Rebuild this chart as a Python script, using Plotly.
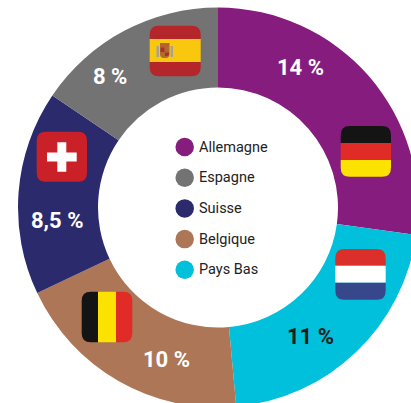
import plotly.graph_objects as go

# ---- data ----
slice_countries = ["Allemagne", "Pays Bas", "Belgique", "Suisse", "Espagne"]
slice_values = [14, 11, 10, 8.5, 8]
slice_colors = ["#851C7E", "#00C0DC", "#AD7656", "#2B2A6D", "#737373"]
value_labels = ["14 %", "11 %", "10 %", "8,5 %", "8 %"]
label_colors = ["#FFFFFF", "#1D1D1B", "#FFFFFF", "#FFFFFF", "#FFFFFF"]
legend_order = ["Allemagne", "Espagne", "Suisse", "Belgique", "Pays Bas"]

# ---- layout (page pixels; the ring runs past the right and bottom edges, as in the reference) ----
W, H = 436, 415
CX, CY, R = 218, 207.5, 200
label_xy = [(300, 67.5), (310, 336.5), (166.5, 359), (57, 220.5), (109.5, 76.5)]
LEG_X, LEG_Y0, LEG_STEP = 184.7, 147, 30.7
FONT = "Roboto, Arial, sans-serif"
color_of = dict(zip(slice_countries, slice_colors))

fig = go.Figure()
fig.add_trace(go.Pie(
    labels=slice_countries, values=slice_values, sort=False,
    direction="clockwise", rotation=0, hole=0.6,
    marker=dict(colors=slice_colors, line=dict(width=0)),
    textinfo="none", showlegend=False, hoverinfo="label+value",
    domain=dict(x=[(CX - R) / W, (CX + R) / W], y=[(H - CY - R) / H, (H - CY + R) / H]),
))

fig.add_trace(go.Scatter(
    x=[LEG_X] * len(legend_order),
    y=[LEG_Y0 + i * LEG_STEP for i in range(len(legend_order))],
    mode="markers", showlegend=False, hoverinfo="skip",
    marker=dict(size=18.5, color=[color_of[c] for c in legend_order], line=dict(width=0)),
))


def rrect(x0, y0, x1, y1, tl=0, tr=0, br=0, bl=0):
    return (
        f"M{x0 + tl},{y0} L{x1 - tr},{y0} Q{x1},{y0} {x1},{y0 + tr} "
        f"L{x1},{y1 - br} Q{x1},{y1} {x1 - br},{y1} "
        f"L{x0 + bl},{y1} Q{x0},{y1} {x0},{y1 - bl} "
        f"L{x0},{y0 + tl} Q{x0},{y0} {x0 + tl},{y0} Z"
    )


shapes = []


def add(path, color):
    shapes.append(dict(type="path", path=path, fillcolor=color,
                       line=dict(width=0), xref="x", yref="y", layer="above"))


def hflag(x0, y0, x1, y1, cuts, colors, r=9):
    edges = [y0] + cuts + [y1]
    for i, c in enumerate(colors):
        top = r if i == 0 else 0
        bot = r if i == len(colors) - 1 else 0
        add(rrect(x0, edges[i], x1, edges[i + 1], top, top, bot, bot), c)


def vflag(x0, y0, x1, y1, cuts, colors, r=9):
    edges = [x0] + cuts + [x1]
    for i, c in enumerate(colors):
        lft = r if i == 0 else 0
        rgt = r if i == len(colors) - 1 else 0
        add(rrect(edges[i], y0, edges[i + 1], y1, lft, rgt, rgt, lft), c)


# Germany
hflag(340.7, 126, 391, 176.7, [143, 160], ["#141414", "#E02B26", "#FBE200"])
# Netherlands
hflag(335.3, 249, 385.7, 299.7, [265.7, 282.7], ["#DB2F2A", "#FFFFFF", "#37478B"])
# Belgium
vflag(81.7, 291.7, 132.3, 342.3, [98, 116], ["#141414", "#FBE200", "#E02B26"])
# Spain
hflag(149.7, 25.7, 200.7, 76.3, [39, 62], ["#B5262B", "#F9C80E", "#B5262B"])
# Spain, coat of arms
add(rrect(156.5, 46, 159, 57), "#A9A28E")
add(rrect(170.5, 46, 173, 57), "#A9A28E")
add(rrect(160, 43, 169.5, 47), "#B5622B")
add(rrect(160, 47, 169.5, 58, 0, 0, 4, 4), "#B06A2A")
add(rrect(160.5, 47.5, 164.5, 52), "#A8322B")
add(rrect(165, 52.5, 169, 56, 0, 0, 2, 0), "#A8322B")
# Switzerland
add(rrect(36.7, 131.7, 87, 181.7, 9, 9, 9, 9), "#C92127")
add(rrect(47, 152.5, 76.7, 161.5), "#FFFFFF")
add(rrect(57.3, 142.3, 66.3, 171.7), "#FFFFFF")

annotations = []
for text, col, (x, y) in zip(value_labels, label_colors, label_xy):
    annotations.append(dict(x=x, y=y, xref="x", yref="y", text=f"<b>{text}</b>", showarrow=False,
                            xanchor="center", yanchor="middle",
                            font=dict(family=FONT, size=22, color=col)))
for i, name in enumerate(legend_order):
    annotations.append(dict(x=LEG_X + 12.3, y=LEG_Y0 + i * LEG_STEP, xref="x", yref="y", text=name,
                            showarrow=False, xanchor="left", yanchor="middle",
                            font=dict(family=FONT, size=14.5, color="#222222")))

fig.update_layout(
    width=W, height=H, autosize=False,
    margin=dict(l=0, r=0, t=0, b=0),
    paper_bgcolor="white", plot_bgcolor="rgba(0,0,0,0)",
    xaxis=dict(visible=False, range=[0, W], domain=[0, 1], fixedrange=True),
    yaxis=dict(visible=False, range=[H, 0], domain=[0, 1], fixedrange=True),
    shapes=shapes, annotations=annotations,
)

fig.write_html(
    "out.html",
    config={"displayModeBar": False},
    post_script="document.documentElement.style.overflow='hidden';document.body.style.margin='0';document.body.style.overflow='hidden';",
)
